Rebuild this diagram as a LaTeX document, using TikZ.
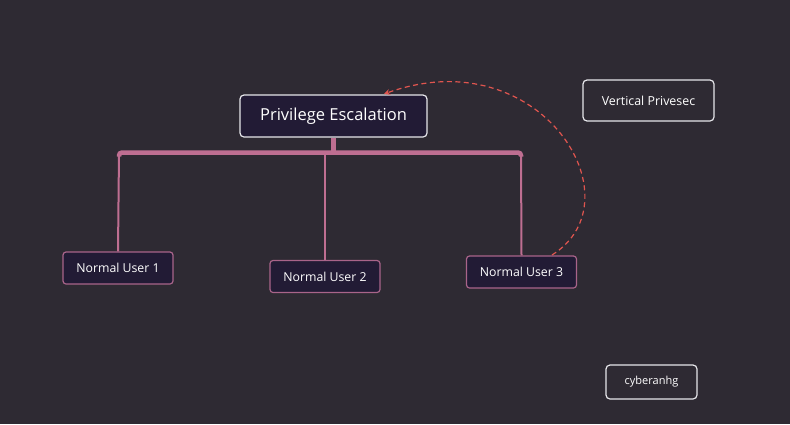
\documentclass[tikz,border=0pt]{standalone}
\usepackage{fontspec}
\setmainfont{Open Sans}
\usetikzlibrary{arrows.meta}
\definecolor{bg}{HTML}{2E2A33}
\definecolor{boxfill}{HTML}{221B35}
\definecolor{pinkline}{HTML}{BE6E91}
\definecolor{pinkborder}{HTML}{A9648A}
\definecolor{dashred}{HTML}{E0554F}
\definecolor{lightborder}{HTML}{E6E6EA}
\tikzset{
  rootbox/.style={draw=lightborder, fill=boxfill, line width=1.2pt, rounded corners=4pt, minimum width=187pt, minimum height=42pt, text=white, font=\fontsize{16.5}{18}\selectfont, inner sep=0pt},
  userbox/.style={draw=pinkborder, fill=boxfill, line width=1.2pt, rounded corners=3pt, minimum width=110pt, minimum height=32pt, text=white, font=\fontsize{12.3}{14}\selectfont, inner sep=0pt},
  plainbox/.style={draw=lightborder, fill=bg, line width=1.2pt, rounded corners=4pt, text=white, inner sep=0pt},
  thinlink/.style={draw=pinkline, line width=2pt},
  thicklink/.style={draw=pinkline, line width=4.5pt},
  jump/.style={draw=dashred, line width=1.2pt, dash pattern=on 5pt off 3.5pt, -{Stealth[length=6pt,width=6pt]}}
}
\begin{document}
\begin{tikzpicture}[x=1pt,y=-1pt]
\fill[bg] (0,0) rectangle (790,424);
\useasboundingbox (0,0) rectangle (790,424);

\node[rootbox] (root) at (333.5,116) {Privilege Escalation};
\node[plainbox, minimum width=131pt, minimum height=41pt, font=\fontsize{12.4}{14}\selectfont] (vert) at (648.5,100.5) {Vertical Privesec};
\node[plainbox, minimum width=91pt, minimum height=34pt, font=\fontsize{11}{13}\selectfont] (cyb) at (651.5,382) {cyberanhg};

\node[userbox] (u1) at (118,268) {Normal User 1};
\node[userbox] (u2) at (325,276.5) {Normal User 2};
\node[userbox] (u3) at (521.5,272) {Normal User 3};

\coordinate (bar) at (333.5,152.5);
\coordinate (c1) at (119,152.5);
\coordinate (c2) at (325,152.5);
\coordinate (c3) at (521,152.5);

\draw[thicklink] (root.south) -- (bar);
\draw[thicklink, rounded corners=3pt] (c1) ++(0,4) -- (c1) -- (c3) -- ++(0,4);
\draw[thinlink] (u1.north) -- (c1);
\draw[thinlink] (u3.north) -- (c3);
\draw[thinlink] (u2.north) -- (c2);

\draw[jump] (552,255) .. controls (640,200) and (540,38) .. (384,94);
\end{tikzpicture}
\end{document}
